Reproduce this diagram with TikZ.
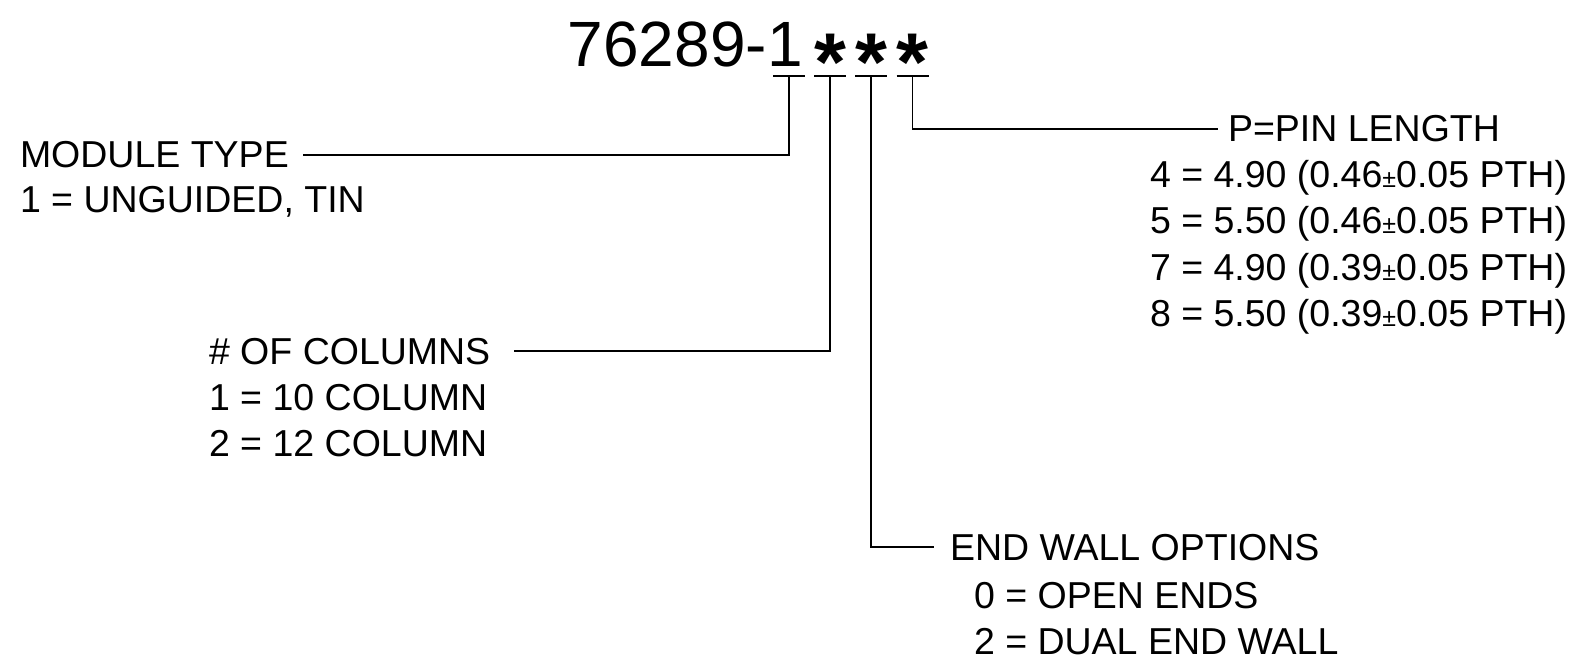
\documentclass[tikz,border=0pt]{standalone}
\usepackage{fontspec}
\setmainfont{Liberation Sans}
\newcommand\smpm{{\fontsize{25}{25}\selectfont ±}}
\begin{document}
\begin{tikzpicture}[x=1pt,y=-1pt,
  lbl/.style={inner sep=0pt,outer sep=0pt,anchor=base west,font=\fontsize{37.5}{45.7}\selectfont},
  ttl/.style={inner sep=0pt,outer sep=0pt,font=\fontsize{64}{70}\selectfont},
  ast/.style={inner sep=0pt,outer sep=0pt,anchor=base,font=\fontsize{82}{90}\selectfont\bfseries},
  ln/.style={line width=1.6pt}]
\useasboundingbox (0,0) rectangle (1578,660);
% title
\node[ttl,anchor=base east] (tt) at (767,67) {76289-};
\node[ttl,anchor=base west] (one) at (767,67) {1};
\node[ast] (a1) at (830,91) {*};
\node[ast] (a2) at (871,91) {*};
\node[ast] (a3) at (912.5,91) {*};
\coordinate (u0) at (789,76);
\coordinate (u1) at (830,76);
\coordinate (u2) at (871,76);
\coordinate (u3) at (912.5,76);
\foreach \u in {u0,u1,u2,u3}
  \draw[ln] ([xshift=-16pt]\u) -- ([xshift=16pt]\u);
% labels
\node[lbl] (mt) at (20,168) {MODULE TYPE};
\node[lbl] (mtv) at (20,213) {1 = UNGUIDED, TIN};
\node[lbl] (oc) at (209,364) {\# OF COLUMNS};
\node[lbl] (ocv1) at (209,410) {1 = 10 COLUMN};
\node[lbl] (ocv2) at (209,456) {2 = 12 COLUMN};
\node[lbl] (ew) at (950,560) {END WALL OPTIONS};
\node[lbl] (ewv1) at (974,608) {0 = OPEN ENDS};
\node[lbl] (ewv2) at (974,654) {2 = DUAL END WALL};
\node[lbl] (pl) at (1228,142) {P=PIN LENGTH};
\node[lbl] (plv1) at (1150,188) {4 = 4.90 (0.46\smpm0.05 PTH)};
\node[lbl] (plv2) at (1150,234) {5 = 5.50 (0.46\smpm0.05 PTH)};
\node[lbl] (plv3) at (1150,280) {7 = 4.90 (0.39\smpm0.05 PTH)};
\node[lbl] (plv4) at (1150,326) {8 = 5.50 (0.39\smpm0.05 PTH)};
% connectors
\draw[ln] (u0) |- ([xshift=14pt]mt.east);
\draw[ln] (u1) |- ([xshift=24pt]oc.east);
\draw[ln] (u2) |- ([xshift=-16pt]ew.west);
\draw[ln] (u3) |- ([xshift=-10pt]pl.west);
\end{tikzpicture}
\end{document}
